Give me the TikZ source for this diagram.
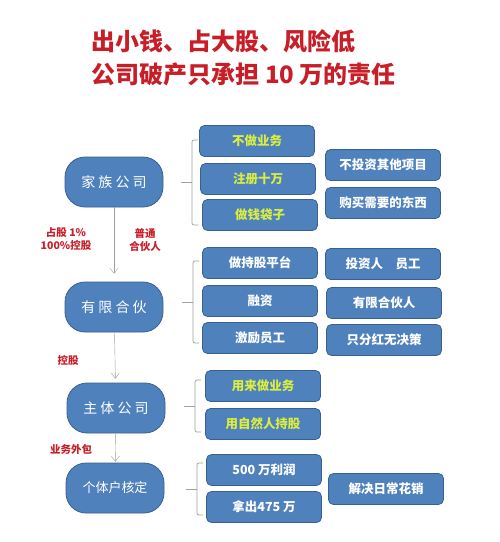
\documentclass[tikz,border=0pt]{standalone}
\usepackage{fontspec}
\setmainfont{Noto Sans CJK SC}
\usetikzlibrary{arrows.meta}
\definecolor{boxblue}{RGB}{79,129,189}
\definecolor{boxedge}{RGB}{58,96,142}
\definecolor{titlered}{RGB}{200,30,40}
\definecolor{tipyellow}{RGB}{218,238,64}
\definecolor{linegray}{RGB}{160,160,160}
\tikzset{
  mainnode/.style={draw=boxedge, fill=boxblue, line width=0.8pt, rounded corners=20pt,
    minimum width=98pt, minimum height=50pt, text=white, font=\fontsize{14}{14}\selectfont},
  itembox/.style={draw=boxedge, fill=boxblue, line width=0.8pt, rounded corners=5pt,
    minimum width=115pt, minimum height=31pt, text=white, font=\bfseries\fontsize{12.5}{12.5}\selectfont},
  hiline/.style={text=tipyellow},
  redlabel/.style={text=titlered, font=\bfseries\fontsize{10.5}{13}\selectfont, align=center},
  titletext/.style={anchor=west, text=titlered, font=\bfseries\fontsize{24}{24}\selectfont},
  brace/.style={draw=linegray, line width=0.7pt, rounded corners=2pt},
}

\begin{document}
\begin{tikzpicture}[x=1pt, y=-1pt, >={Straight Barb[length=5pt, width=8pt]}]
      \fill[white] (0,0) rectangle (500,542);
      \useasboundingbox (0,0) rectangle (500,542);
      \node[titletext] (title1) at (88,41) {出小钱、占大股、风险低};
      \node[titletext] (title2) at (88,74) {公司破产只承担 10 万的责任};
      \node[mainnode] (family) at (114,182) {家 族 公 司};
      \node[mainnode] (partner) at (114,307) {有 限 合 伙};
      \node[mainnode] (company) at (116,408) {主 体 公 司};
      \node[mainnode, font=\fontsize{13}{13}\selectfont] (single) at (115,488) {个体户核定};
      \draw[->, linegray, shorten >=8pt] (family) -- (partner);
      \draw[->, linegray, shorten >=4pt] (partner) -- (company);
      \draw[->, linegray, shorten >=1pt] (company) -- (single);
      \node[redlabel] (share) at (66,239) {占股 1\%\\100\%控股};
      \node[redlabel] (general) at (145,240) {普通\\合伙人};
      \node[redlabel] (control) at (68,360) {控股};
      \node[redlabel] (outsource) at (71,449) {业务外包};
      \node[itembox, hiline] (nowork) at (257,141) {不做业务};
      \node[itembox, hiline] (register) at (258,179) {注册十万};
      \node[itembox, hiline] (purse) at (260,215) {做钱袋子};
      \node[itembox] (noinvest) at (383,165) {不投资其他项目};
      \node[itembox] (buy) at (383,203) {购买需要的东西};
      \node[itembox] (platform) at (260,263) {做持股平台};
      \node[itembox] (finance) at (260,301) {融资};
      \node[itembox] (reward) at (260,338) {激励员工};
      \node[itembox] (investor) at (383,264) {投资人\quad 员工};
      \node[itembox] (limited) at (384,303) {有限合伙人};
      \node[itembox] (dividend) at (384,340) {只分红无决策};
      \node[itembox, hiline] (business) at (263,386) {用来做业务};
      \node[itembox, hiline] (holder) at (263,424) {用自然人持股};
      \node[itembox] (profit) at (264,470) {500 万利润};
      \node[itembox] (takeout) at (264,507) {拿出475 万};
      \node[itembox] (spend) at (386,489) {解决日常花销};
      \foreach \bx/\btop/\bbot in {192/140/225, 193/261/343, 195/380/432, 197/463/515} {
        \draw[brace] (\bx+6,\btop) -- (\bx,\btop) -- (\bx,\bbot) -- (\bx+6,\bbot);
        \draw[brace] (\bx,{(\btop+\bbot)/2}) -- (\bx-11,{(\btop+\bbot)/2});
      }
    \end{tikzpicture}
\end{document}
